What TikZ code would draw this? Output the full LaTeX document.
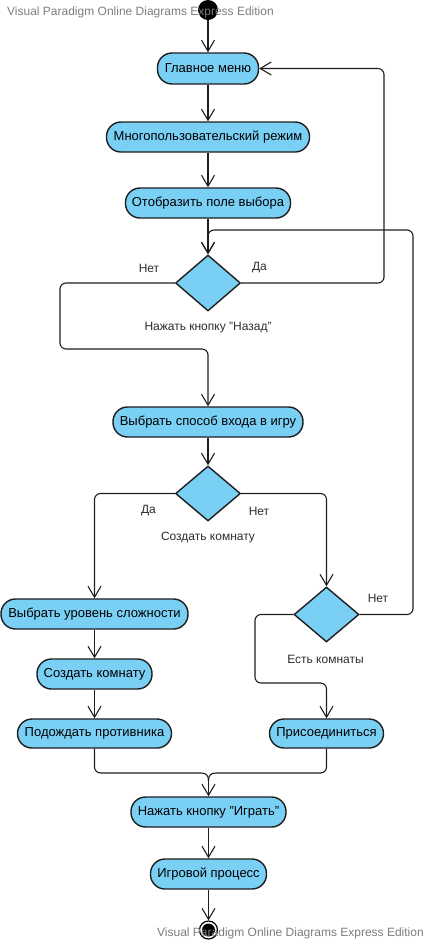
\documentclass[tikz,border=0pt]{standalone}
\usepackage{fontspec}
\setmainfont{Liberation Sans}
\usetikzlibrary{arrows.meta,shapes.geometric}
\definecolor{actfill}{RGB}{122,207,245}
\definecolor{lineclr}{RGB}{30,30,30}
\definecolor{wmclr}{RGB}{125,125,125}
\definecolor{lblclr}{RGB}{45,45,45}
\tikzset{
  act/.style={draw=lineclr, line width=1.4pt, fill=actfill, rectangle, rounded corners=14.5pt,
    inner sep=0pt, minimum height=30pt, font=\fontsize{13}{15}\selectfont, text=black},
  dec/.style={draw=lineclr, line width=1.4pt, fill=actfill, diamond, inner sep=0pt,
    minimum width=65pt, minimum height=56pt},
  flow/.style={draw=lineclr, line width=1.1pt, rounded corners=6pt},
  arr/.style={flow, -{Straight Barb[length=11pt, width=13pt, line width=1.1pt]}},
  lbl/.style={font=\fontsize{12}{14}\selectfont, text=lblclr, inner sep=0pt},
  wm/.style={font=\fontsize{12}{14}\selectfont, text=wmclr, inner sep=0pt, anchor=west},
}
\begin{document}
\begin{tikzpicture}[x=1pt, y=-1pt]
\useasboundingbox (0,0) rectangle (429,943);
% start
\node[circle, fill=black, minimum size=20pt, inner sep=0pt] (start) at (208,10) {};
% activities
\node[act, minimum width=101pt, minimum height=31pt] (n1) at (208,68.5) {Главное меню};
\node[act, minimum width=203pt] (n2) at (208,137) {Многопользовательский режим};
\node[act, minimum width=165pt] (n3) at (208,203) {Отобразить поле выбора};
\node[dec] (d1) at (208,283) {};
\node[act, minimum width=190pt] (n4) at (208,422) {Выбрать способ входа в игру};
\node[dec, minimum height=55pt] (d2) at (208,493.5) {};
\node[act, minimum width=187pt] (n5) at (94.5,614) {Выбрать уровень сложности};
\node[act, minimum width=115pt] (n6) at (94.5,674) {Создать комнату};
\node[act, minimum width=154pt, minimum height=29pt] (n7) at (94.5,733.5) {Подождать противника};
\node[dec, minimum height=55pt] (d3) at (326.5,614.5) {};
\node[act, minimum width=114pt, minimum height=29pt] (n8) at (326.5,733.5) {Присоединиться};
\node[act, minimum width=155pt] (n9) at (208.5,812) {Нажать кнопку "Играть"};
\node[act, minimum width=116pt] (n10) at (208.5,874) {Игровой процесс};
% end
\node[circle, draw=black, line width=1.2pt, fill=white, minimum size=18pt, inner sep=0pt] (endo) at (208.5,930) {};
\node[circle, fill=black, minimum size=13pt, inner sep=0pt] (endi) at (208.5,930) {};
% labels
\node[lbl] (l1) at (149,268) {Нет};
\node[lbl] (l2) at (259.5,268) {Да};
\node[lbl] (l3) at (208,328) {Нажать кнопку "Назад"};
\node[lbl] (l4) at (148.5,511) {Да};
\node[lbl] (l5) at (259,511) {Нет};
\node[lbl] (l6) at (208,538) {Создать комнату};
\node[lbl] (l7) at (378,598) {Нет};
\node[lbl] (l8) at (325.5,659) {Есть комнаты};
% connectors
\draw[arr] (start) -- (n1);
\draw[arr] (n1) -- (n2);
\draw[arr] (n2) -- (n3);
\draw[arr] (n3) -- (d1.north);
\draw[arr] (d1.east) -- (384,283) -- (384,68.5) -- (n1.east);
\draw[arr] (d1.west) -- (60,283) -- (60,349) -- (208,349) -- (n4.north);
\draw[arr] (n4) -- (d2.north);
\draw[arr] (d2.west) -- (94.5,493.5) -- (n5.north);
\draw[arr] (d2.east) -- (326.5,493.5) -- (d3.north);
\draw[arr] (d3.east) -- (413,614.5) -- (413,230) -- (208,230) -- (d1.north);
\draw[arr] (d3.west) -- (255,614.5) -- (255,683) -- (326.5,683) -- (n8.north);
\draw[arr] (n5) -- (n6);
\draw[arr] (n6) -- (n7);
\coordinate (mL) at (201,773);
\coordinate (mR) at (216,773);
\coordinate (m) at (208.5,781);
\draw[flow] (n7.south) -- (94.5,773) -- (mL);
\draw[flow] (n8.south) -- (326.5,773) -- (mR);
\draw[flow, rounded corners=0pt] (mL) .. controls (206,773) and (208.5,775) .. (m);
\draw[flow, rounded corners=0pt] (mR) .. controls (211,773) and (208.5,775) .. (m);
\draw[arr] (m) -- (n9.north);
\draw[arr] (n9) -- (n10);
\draw[arr] (n10) -- (endo.north);
% watermarks
\node[wm] (wm1) at (7,12) {Visual Paradigm Online Diagrams Express Edition};
\node[wm] (wm2) at (157,933) {Visual Paradigm Online Diagrams Express Edition};
\end{tikzpicture}
\end{document}
